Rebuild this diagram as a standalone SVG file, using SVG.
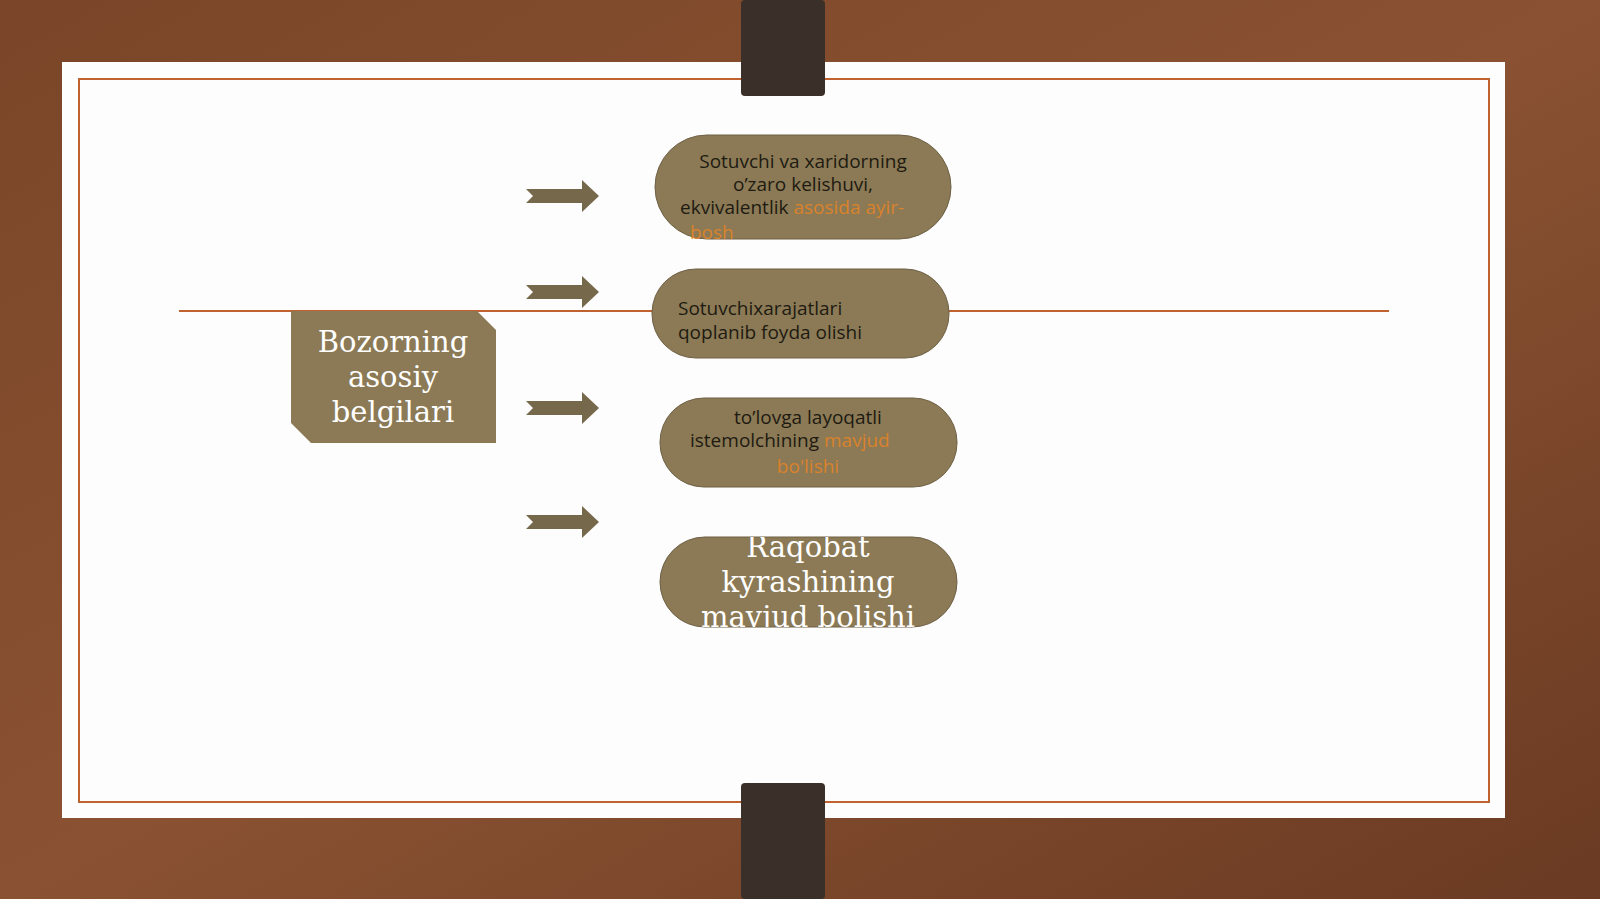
<svg xmlns="http://www.w3.org/2000/svg" width="1600" height="899" viewBox="0 0 1600 899">
<defs>
<linearGradient id="wood" x1="0" y1="0" x2="1" y2="1">
<stop offset="0" stop-color="#7a4528"/><stop offset="0.5" stop-color="#8a5232"/><stop offset="1" stop-color="#6a3a22"/>
</linearGradient>
<style>
.pill{fill:#8b7a55;stroke:#6e6045;stroke-width:1}
.arr{fill:#76684a}
.dt{font-family:"Open Sans","Noto Sans",sans-serif;font-size:19px;fill:#1e1a12}
.or{fill:#d9822b}
.st{font-family:"DejaVu Serif","Liberation Serif",serif;font-size:29px;fill:#ffffff;text-anchor:middle}
</style>
</defs>
<rect width="1600" height="899" fill="url(#wood)"/>
<rect x="62" y="62" width="1443" height="756" fill="#fdfdfd"/>
<rect x="79" y="79" width="1410" height="723" fill="none" stroke="#c0622f" stroke-width="2"/>
<rect x="741" y="0" width="84" height="96" rx="4" fill="#3a3029"/>
<rect x="741" y="783" width="84" height="116" rx="4" fill="#3a3029"/>
<line x1="179" y1="311" x2="1389" y2="311" stroke="#c0622f" stroke-width="2"/>
<g id="connectors">
<polygon class="arr" points="526,189 582,189 582,180 599,196 582,212 582,203 526,203 533,196"/>
<polygon class="arr" points="526,285 582,285 582,276 599,292 582,308 582,299 526,299 533,292"/>
<polygon class="arr" points="526,401 582,401 582,392 599,408 582,424 582,415 526,415 533,408"/>
<polygon class="arr" points="526,515 582,515 582,506 599,522 582,538 582,529 526,529 533,522"/>
</g>
<g id="main">
<polygon fill="#8b7a55" points="291,311 477,311 496,330 496,443 311,443 291,423"/>
<text class="st" x="393" y="352">Bozorning</text>
<text class="st" x="393" y="387">asosiy</text>
<text class="st" x="393" y="422">belgilari</text>
</g>
<g id="n1">
<rect class="pill" x="655" y="135" width="296" height="104" rx="52"/>
<text class="dt" text-anchor="middle" x="803" y="168">Sotuvchi va xaridorning</text>
<text class="dt" text-anchor="middle" x="803" y="191">o’zaro kelishuvi,</text>
<text class="dt" x="680" y="214">ekvivalentlik <tspan class="or">asosida ayir-</tspan></text>
<text class="dt or" x="690" y="239">bosh</text>
</g>
<g id="n2">
<rect class="pill" x="652" y="269" width="297" height="89" rx="44"/>
<text class="dt" x="678" y="315">Sotuvchixarajatlari</text>
<text class="dt" x="678" y="339">qoplanib foyda olishi</text>
</g>
<g id="n3">
<rect class="pill" x="660" y="398" width="297" height="89" rx="44"/>
<text class="dt" text-anchor="middle" x="808" y="424">to’lovga layoqatli</text>
<text class="dt" x="690" y="447">istemolchining <tspan class="or">mavjud</tspan></text>
<text class="dt or" text-anchor="middle" x="808" y="473">bo'lishi</text>
</g>
<g id="n4">
<clipPath id="c4"><rect x="660" y="537" width="297" height="90" rx="45"/></clipPath>
<rect class="pill" x="660" y="537" width="297" height="90" rx="45"/>
<g clip-path="url(#c4)">
<text class="st" x="808" y="557">Raqobat</text>
<text class="st" x="808" y="592">kyrashining</text>
<text class="st" x="808" y="627">mavjud bolishi</text>
</g>
</g>
</svg>
